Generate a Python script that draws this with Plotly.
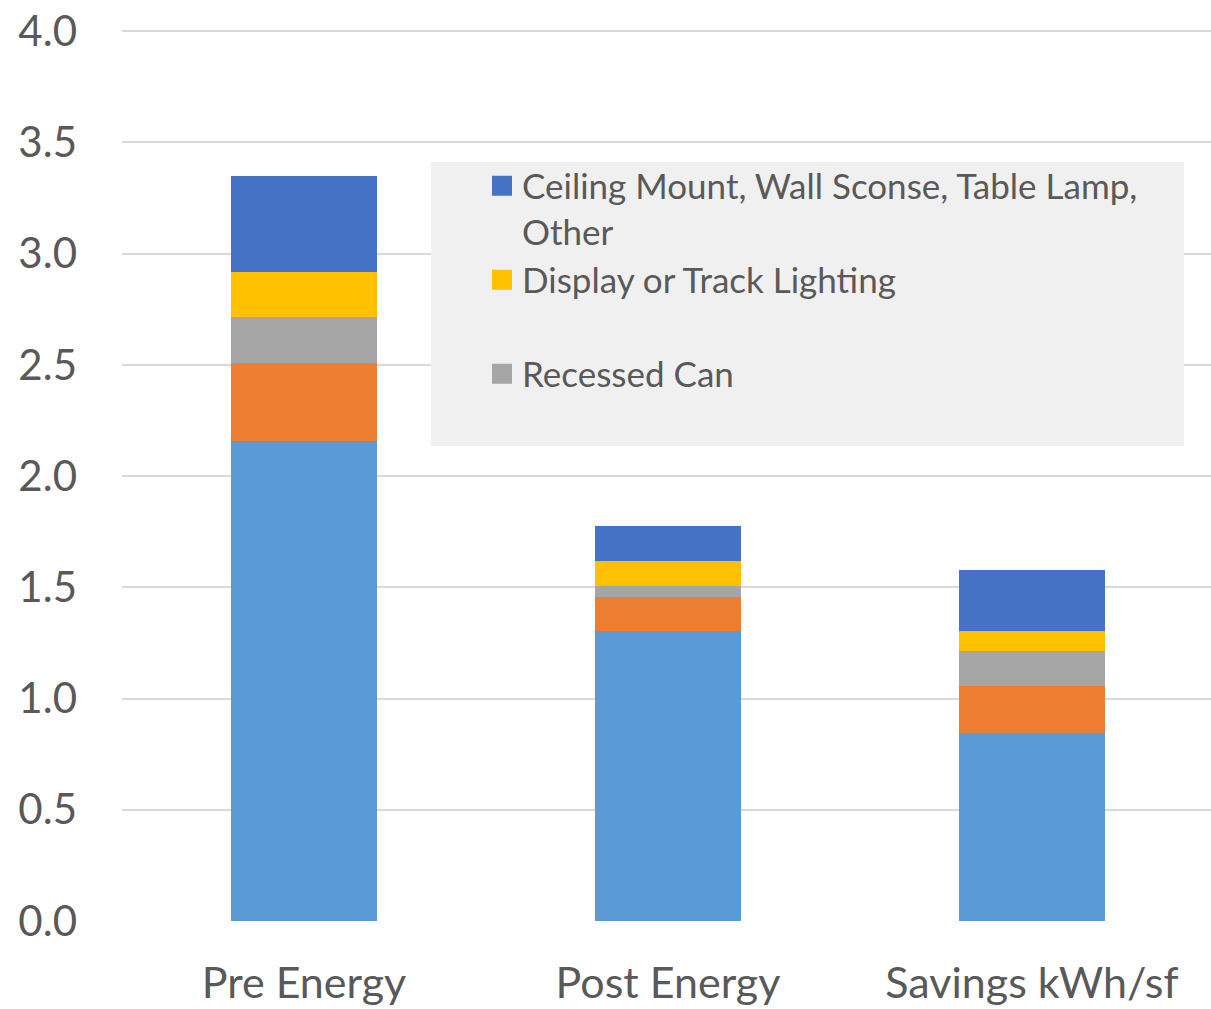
import plotly.graph_objects as go

categories = ["Pre Energy", "Post Energy", "Savings kWh/sf"]

series_names = ["Series 1", "Series 2", "Recessed Can", "Display or Track Lighting",
                "Ceiling Mount, Wall Sconse, Table Lamp,<br>Other"]
series_colors = ["#5B9BD5", "#ED7D31", "#A5A5A5", "#FFC000", "#4472C4"]

light_blue = [2.157, 1.305, 0.846]
orange = [0.350, 0.151, 0.209]
gray = [0.209, 0.048, 0.160]
yellow = [0.201, 0.113, 0.090]
dark_blue = [0.431, 0.158, 0.271]
series_values = [light_blue, orange, gray, yellow, dark_blue]

legend_order = [4, 3, 2]  # indices of series shown in the legend, top to bottom
legend_labels = {
    4: "Ceiling Mount, Wall Sconse, Table Lamp,<br>Other",
    3: "Display or Track Lighting<br>\u00a0",
    2: "Recessed Can",
}

y_ticks = [0, 0.5, 1.0, 1.5, 2.0, 2.5, 3.0, 3.5, 4.0]
y_tick_text = ["0.0", "0.5", "1.0", "1.5", "2.0", "2.5", "3.0", "3.5", "4.0"]

FONT = "Lato"
TEXT_COLOR = "#595959"

fig = go.Figure()
for i, (name, color, vals) in enumerate(zip(series_names, series_colors, series_values)):
    fig.add_trace(go.Bar(
        x=categories, y=vals, name=name.replace("<br>", " "),
        marker=dict(color=color, line=dict(width=0)),
        showlegend=False, legendgroup=f"g{i}",
    ))

# legend entries (larger square symbols than bar legend glyphs)
for rank, i in enumerate(legend_order):
    fig.add_trace(go.Scatter(
        x=[None], y=[None], mode="markers", name=legend_labels[i],
        marker=dict(symbol="square", size=16, color=series_colors[i],
                    line=dict(width=4, color=series_colors[i])),
        legendgroup=f"g{i}", legendrank=rank + 1, showlegend=True,
    ))

fig.update_layout(
    width=1211, height=1009,
    margin=dict(l=122, r=0, t=29, b=88),
    barmode="stack", bargap=0.6,
    plot_bgcolor="white", paper_bgcolor="white",
    font=dict(family=FONT, color=TEXT_COLOR),
    xaxis=dict(
        type="category", range=[-0.5, 2.492],
        showgrid=False, zeroline=False, showline=False, ticks="",
        tickfont=dict(size=43, color=TEXT_COLOR, family=FONT),
        ticklabelstandoff=33,
    ),
    yaxis=dict(
        range=[0, 4.01], tickvals=y_ticks, ticktext=y_tick_text,
        showgrid=True, gridcolor="#D9D9D9", gridwidth=1.5,
        zeroline=False, showline=False, ticks="",
        tickfont=dict(size=42, color=TEXT_COLOR, family=FONT),
        ticklabelstandoff=44,
    ),
    legend=dict(
        x=0.3306, y=0.857, xanchor="left", yanchor="top",
        bgcolor="rgba(0,0,0,0)", borderwidth=0,
        font=dict(size=35, color=TEXT_COLOR, family=FONT),
        valign="top", tracegroupgap=0, traceorder="normal",
    ),
    shapes=[dict(
        type="rect", xref="paper", yref="paper",
        x0=0.2837, x1=0.9752, y0=0.5325, y1=0.8509,
        fillcolor="#F0F0F0", line=dict(width=0), layer="above",
    )],
    showlegend=True,
)

fig.write_html("out.html")
